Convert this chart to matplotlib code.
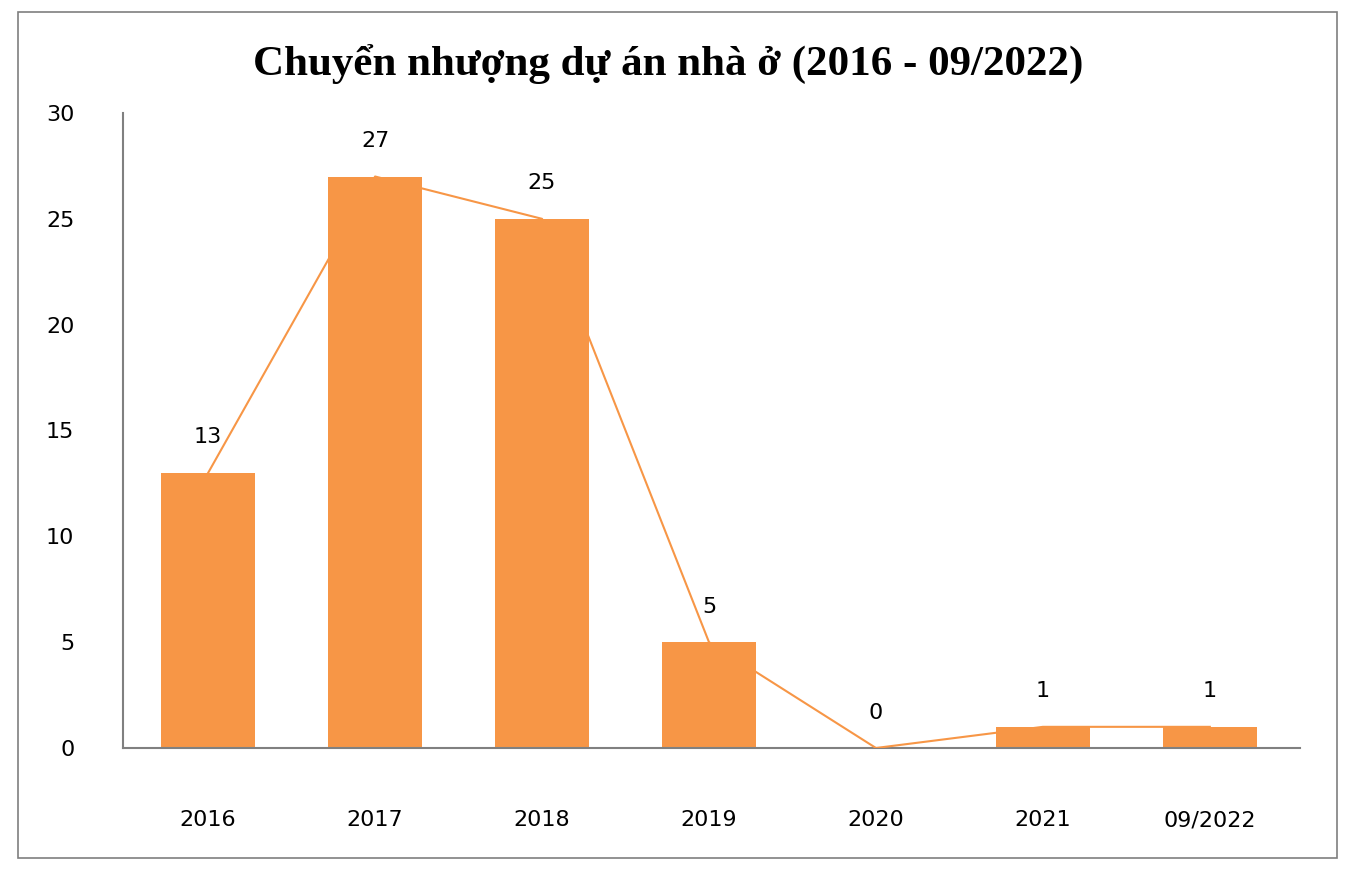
import matplotlib
matplotlib.use("Agg")
import matplotlib.pyplot as plt
from matplotlib.patches import Rectangle

categories = ["2016", "2017", "2018", "2019", "2020", "2021", "09/2022"]
values = [13, 27, 25, 5, 0, 1, 1]
yticks = [0, 5, 10, 15, 20, 25, 30]

W, H = 1355, 876
fig = plt.figure(figsize=(W/100, H/100), dpi=100)
fig.patches.append(Rectangle((18/W, 1-858/H), (1337-18)/W, (858-12)/H, transform=fig.transFigure,
                             fill=False, edgecolor="#7f7f7f", lw=1.2))
ax = fig.add_axes([123/W, 1-748/H, (1300-123)/W, (748-113)/H])
x = list(range(len(categories)))
color = "#F79646"
ax.bar(x, values, width=0.56, color=color, zorder=2)
ax.plot(x, values, color=color, lw=1.5, zorder=3)
for xi, v in zip(x, values):
    ax.text(xi, v + 1.2, str(v), ha="center", va="bottom", fontsize=16, family="DejaVu Sans")
ax.set_xlim(-0.51, 6.54)
ax.set_ylim(0, 30)
ax.set_yticks(yticks)
ax.set_xticks(x)
ax.set_xticklabels(categories)
ax.tick_params(length=0, labelsize=16)
ax.tick_params(axis="y", pad=35)
ax.tick_params(axis="x", pad=45)
for s in ["top", "right"]:
    ax.spines[s].set_visible(False)
for s in ["left", "bottom"]:
    ax.spines[s].set_color("#808080")
    ax.spines[s].set_linewidth(1.5)
fig.text(668/W, 1-65/H, "Chuyển nhượng dự án nhà ở (2016 - 09/2022)", ha="center", va="center",
         fontsize=31, fontweight="bold", family="Liberation Serif")
fig.savefig("out.png", dpi=100)
